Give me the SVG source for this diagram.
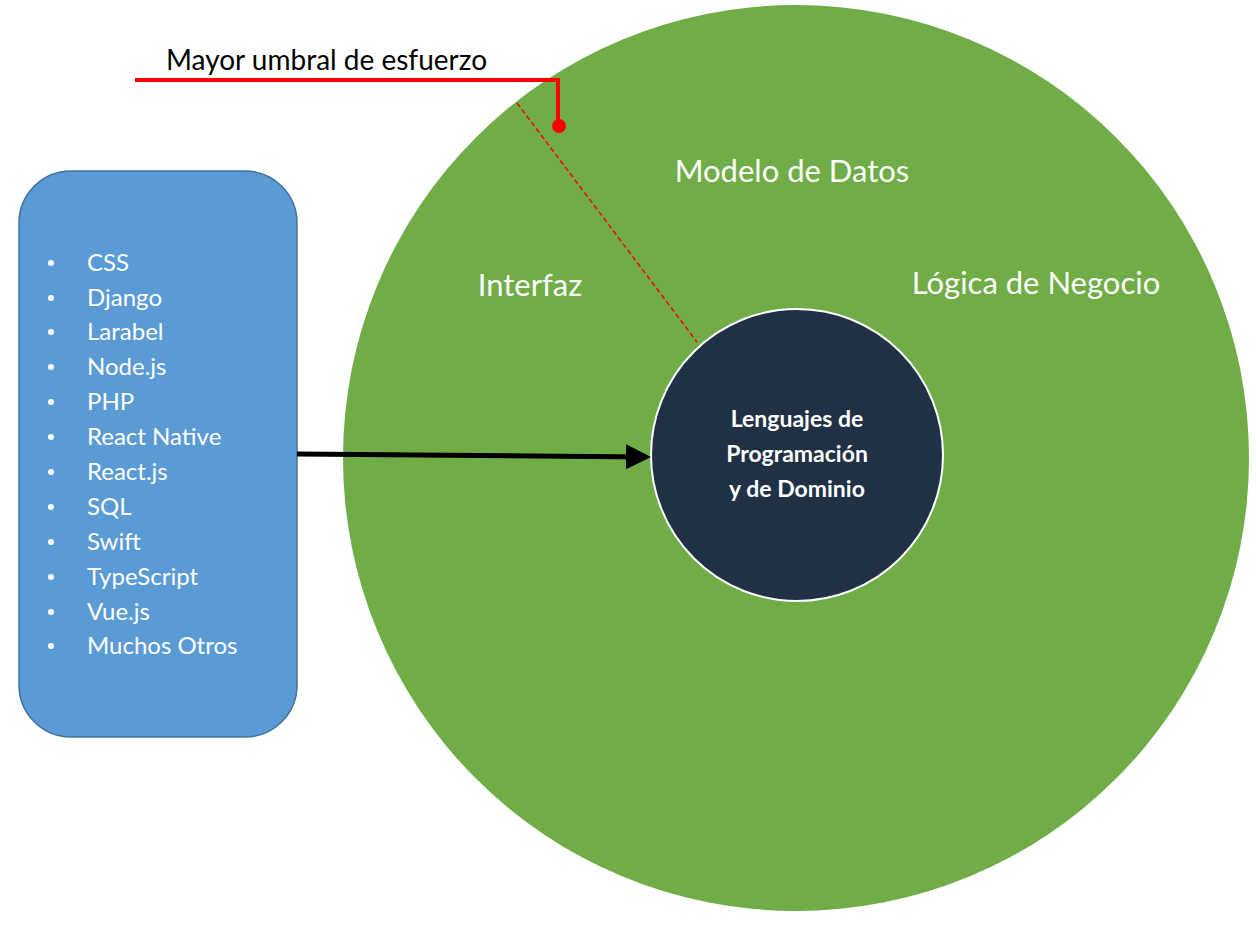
<svg xmlns="http://www.w3.org/2000/svg" width="1256" height="934" viewBox="0 0 1256 934">
<style>
.t{font-family:Lato,"Open Sans",sans-serif;fill:#fff}
.big{font-size:31px}
.li{font-size:24px}
</style>
<defs>
<marker id="ah" markerWidth="5" markerHeight="5" refX="4" refY="2.5" orient="auto" markerUnits="strokeWidth"><path d="M0,0L5,2.5L0,5z" fill="#000"/></marker>
</defs>
<rect width="1256" height="934" fill="#fff"/>
<g id="outer"><circle cx="796" cy="458" r="453" fill="#70ad47"/>
<text class="t big" x="792" y="182" text-anchor="middle">Modelo de Datos</text>
<text class="t big" x="530" y="296" text-anchor="middle">Interfaz</text>
<text class="t big" x="1036" y="294" text-anchor="middle">Lógica de Negocio</text></g>
<g id="core"><circle cx="797" cy="455" r="146" fill="#203145" stroke="#fff" stroke-width="2"/>
<text class="t" font-size="23" font-weight="bold" text-anchor="middle"><tspan x="797" y="427">Lenguajes de</tspan><tspan x="797" y="462">Programación</tspan><tspan x="797" y="497">y de Dominio</tspan></text></g>
<g id="list"><rect x="19" y="171" width="278" height="566" rx="52" fill="#5b9bd5" stroke="#41719c" stroke-width="1.5"/>
<g class="t li">
<text x="87" y="271">CSS</text><text x="87" y="306">Django</text><text x="87" y="340">Larabel</text><text x="87" y="375">Node.js</text><text x="87" y="410">PHP</text><text x="87" y="445">React Native</text><text x="87" y="480">React.js</text><text x="87" y="515">SQL</text><text x="87" y="550">Swift</text><text x="87" y="585">TypeScript</text><text x="87" y="620">Vue.js</text><text x="87" y="654">Muchos Otros</text></g>
<g fill="#fff"><circle cx="51" cy="263" r="3"/><circle cx="51" cy="298" r="3"/><circle cx="51" cy="332" r="3"/><circle cx="51" cy="367" r="3"/><circle cx="51" cy="402" r="3"/><circle cx="51" cy="437" r="3"/><circle cx="51" cy="472" r="3"/><circle cx="51" cy="507" r="3"/><circle cx="51" cy="542" r="3"/><circle cx="51" cy="577" r="3"/><circle cx="51" cy="612" r="3"/><circle cx="51" cy="646" r="3"/></g></g>
<g id="label"><text x="166" y="70" font-family="Lato,'Open Sans',sans-serif" font-size="28" fill="#000">Mayor umbral de esfuerzo</text></g>
<g id="connectors">
<line x1="297" y1="454" x2="646" y2="457" stroke="#000" stroke-width="5" marker-end="url(#ah)"/>
<polyline points="135,80 558,80 558,120" fill="none" stroke="#f00" stroke-width="4"/>
<circle cx="559" cy="126" r="7" fill="#f00"/>
<line x1="517" y1="103" x2="697" y2="342" stroke="#f00" stroke-width="1.5" stroke-dasharray="5,3"/>
</g>
</svg>
